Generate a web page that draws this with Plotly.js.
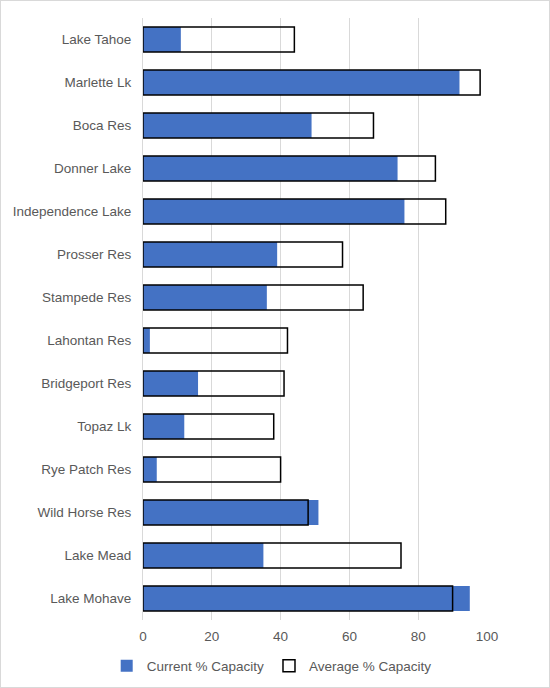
<!DOCTYPE html>
<html>
<head>
<meta charset="utf-8">
<script src="https://cdn.plot.ly/plotly-3.0.1.min.js"></script>
<style>
  body { margin: 0; padding: 0; background: #fff; }
  #wrap { position: relative; width: 550px; height: 688px; }
  #chart { position: absolute; left: 0; top: 0; width: 550px; height: 688px; }
  #frame { position: absolute; left: 0; top: 0; width: 550px; height: 688px; box-sizing: border-box; border: 1px solid #d9d9d9; pointer-events: none; }
</style>
</head>
<body>
<div id="wrap">
  <div id="chart"></div>
  <div id="frame"></div>
</div>
<script>
const categories = ["Lake Tahoe", "Marlette Lk", "Boca Res", "Donner Lake", "Independence Lake",
  "Prosser Res", "Stampede Res", "Lahontan Res", "Bridgeport Res", "Topaz Lk",
  "Rye Patch Res", "Wild Horse Res", "Lake Mead", "Lake Mohave"];
const currentCapacity = [11, 92, 49, 74, 76, 39, 36, 2, 16, 12, 4, 51, 35, 95];
const averageCapacity = [44, 98, 67, 85, 88, 58, 64, 42, 41, 38, 40, 48, 75, 90];
const xTickValues = [0, 20, 40, 60, 80, 100];

const FONT = "Liberation Sans, Arial, sans-serif";
const data = [
  {
    type: "bar", orientation: "h", name: "Current % Capacity",
    y: categories, x: currentCapacity, width: 0.58,
    marker: { color: "#4472C4", line: { width: 0 } },
    hoverinfo: "skip"
  },
  {
    type: "bar", orientation: "h", name: "Average % Capacity",
    y: categories, x: averageCapacity, width: 0.58,
    marker: { color: "rgba(255,255,255,0)", line: { color: "#000000", width: 1.5 } },
    hoverinfo: "skip"
  }
];

const layout = {
  width: 550, height: 688,
  margin: { l: 142.5, r: 62.5, t: 18, b: 68 },
  paper_bgcolor: "#ffffff", plot_bgcolor: "#ffffff",
  barmode: "overlay",
  font: { family: FONT, size: 13.5, color: "#595959" },
  xaxis: {
    range: [0, 100], tickvals: xTickValues, ticktext: xTickValues.map(String),
    showgrid: true, gridcolor: "#d9d9d9", gridwidth: 1,
    zeroline: false, showline: false, ticks: "", ticklabelstandoff: 6,
    tickfont: { family: FONT, size: 13.5, color: "#595959" },
    fixedrange: true
  },
  yaxis: {
    autorange: "reversed", type: "category",
    showgrid: false, zeroline: false,
    showline: true, linecolor: "#d9d9d9", linewidth: 1,
    ticks: "", ticklabelstandoff: 8,
    tickfont: { family: FONT, size: 13.5, color: "#595959" },
    fixedrange: true
  },
  showlegend: true,
  legend: {
    orientation: "h", xref: "container", yref: "container",
    x: 0.494, xanchor: "center", y: 0.032, yanchor: "middle",
    itemwidth: 30, traceorder: "normal",
    font: { family: FONT, size: 13.5, color: "#595959" },
    bgcolor: "rgba(0,0,0,0)"
  }
};

Plotly.newPlot("chart", data, layout, { staticPlot: true, displayModeBar: false });
</script>
</body>
</html>
